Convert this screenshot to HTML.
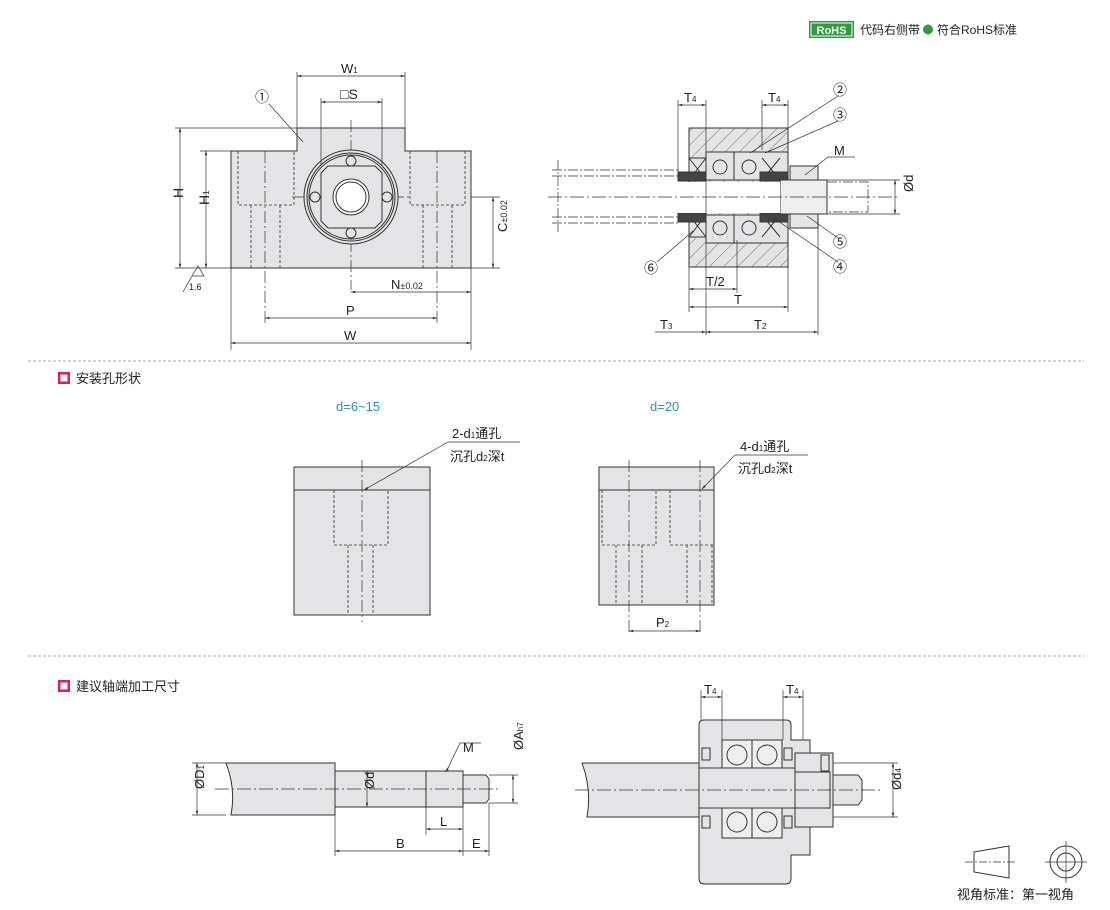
<!DOCTYPE html>
<html><head><meta charset="utf-8"><style>
html,body{margin:0;padding:0;background:#fff;}
svg{display:block;font-family:"Liberation Sans","Noto Sans CJK SC",sans-serif;}
</style></head><body>
<svg width="1110" height="910" viewBox="0 0 1110 910" xmlns="http://www.w3.org/2000/svg">
<defs>
<pattern id="h" width="10" height="10" patternUnits="userSpaceOnUse" patternTransform="rotate(45)">
<rect width="10" height="10" fill="#e4e4e6"/><line x1="0" y1="0" x2="0" y2="10" stroke="#555" stroke-width="0.8"/></pattern>
<marker id="a" viewBox="0 0 10 10" refX="10" refY="5" markerWidth="8" markerHeight="6" orient="auto-start-reverse"><path d="M0,2 L10,5 L0,8z" fill="#333"/></marker>
</defs>
<g font-size="12" fill="#222">
<!-- header -->
<rect x="809" y="21" width="45" height="17" fill="#2f9a3e"/>
<rect x="811" y="23" width="41" height="13" fill="none" stroke="#fff" stroke-width="1"/>
<text x="831.5" y="34" font-size="11" font-weight="bold" fill="#fff" text-anchor="middle">RoHS</text>
<text x="860" y="34">代码右侧带</text>
<circle cx="928" cy="29.5" r="5" fill="#2f9a3e"/>
<text x="937" y="34">符合RoHS标准</text>
</g>

<g stroke="#333" stroke-width="1" fill="none">
<!-- separators -->
<line x1="28" y1="361" x2="1084" y2="361" stroke="#aaa" stroke-dasharray="3,2"/>
<line x1="28" y1="656" x2="1084" y2="656" stroke="#aaa" stroke-dasharray="3,2"/>

<!-- TOP LEFT body -->
<path d="M231,151 H297 V128 H405 V151 H471 V268 H231Z" fill="#e4e4e6"/>
<g stroke-dasharray="3,2" stroke-width="0.8">
<path d="M238,151 V205 H294 V151"/><path d="M251,205 V268 M280,205 V268"/>
<path d="M410,151 V205 H465 V151"/><path d="M423,205 V268 M452,205 V268"/>
</g>
<g stroke-dasharray="12,3,2,3" stroke-width="0.7">
<line x1="265" y1="151" x2="265" y2="325"/><line x1="437" y1="151" x2="437" y2="325"/>
<line x1="351" y1="120" x2="351" y2="290"/><line x1="292" y1="197" x2="410" y2="197"/>
</g>
<circle cx="351" cy="197" r="47" fill="#e4e4e6"/><circle cx="351" cy="197" r="44"/><circle cx="351" cy="197" r="42"/>
<path d="M328,166 H375 L382,173 V221 L375,228 H328 L321,221 V173Z"/>
<circle cx="351" cy="197" r="18" fill="#fff"/><circle cx="351" cy="197" r="15"/>
<circle cx="351" cy="161" r="5"/><circle cx="351" cy="233" r="5"/><circle cx="315" cy="197" r="5"/><circle cx="387" cy="197" r="5"/>
<!-- dims -->
<g stroke-width="0.7">
<line x1="297" y1="72" x2="297" y2="128"/><line x1="405" y1="72" x2="405" y2="128"/>
<line x1="297" y1="76" x2="405" y2="76" marker-start="url(#a)" marker-end="url(#a)"/>
<line x1="321" y1="98" x2="321" y2="166"/><line x1="382" y1="98" x2="382" y2="166"/>
<line x1="321" y1="102" x2="382" y2="102" marker-start="url(#a)" marker-end="url(#a)"/>
<line x1="175" y1="128" x2="297" y2="128"/><line x1="175" y1="268" x2="231" y2="268"/>
<line x1="180" y1="128" x2="180" y2="268" marker-start="url(#a)" marker-end="url(#a)"/>
<line x1="200" y1="151" x2="231" y2="151"/>
<line x1="206" y1="151" x2="206" y2="268" marker-start="url(#a)" marker-end="url(#a)"/>
<line x1="471" y1="197" x2="500" y2="197"/><line x1="471" y1="268" x2="500" y2="268"/>
<line x1="493" y1="197" x2="493" y2="268" marker-start="url(#a)" marker-end="url(#a)"/>
<line x1="231" y1="268" x2="231" y2="350"/><line x1="471" y1="268" x2="471" y2="350"/>
<line x1="351" y1="292" x2="471" y2="292" marker-start="url(#a)" marker-end="url(#a)"/>
<line x1="265" y1="318" x2="437" y2="318" marker-start="url(#a)" marker-end="url(#a)"/>
<line x1="231" y1="343" x2="471" y2="343" marker-start="url(#a)" marker-end="url(#a)"/>
<line x1="269" y1="104" x2="303" y2="142"/>
<path d="M192,276 L198,266 L204,276 H192 M192,276 L183,292"/>
</g>

<!-- TOP RIGHT section -->
<rect x="689" y="128" width="99" height="139" fill="url(#h)"/>
<rect x="706" y="152" width="82" height="28" fill="#e4e4e6"/><rect x="706" y="215" width="82" height="28" fill="#e4e4e6"/>
<rect x="689" y="158" width="17" height="22" fill="#e4e4e6"/><rect x="689" y="215" width="17" height="22" fill="#e4e4e6"/>
<path d="M689,158 L706,180 M706,158 L689,180 M689,215 L706,237 M706,215 L689,237"/>
<path d="M762,158 L780,180 M780,158 L762,180 M762,215 L780,237 M780,215 L762,237"/>
<line x1="734" y1="152" x2="734" y2="180"/><line x1="734" y1="215" x2="734" y2="243"/>
<circle cx="720" cy="167" r="7"/><circle cx="749" cy="167" r="7"/><circle cx="720" cy="228" r="7"/><circle cx="749" cy="228" r="7"/>
<rect x="678" y="172" width="28" height="9" fill="#444"/><rect x="678" y="213" width="28" height="9" fill="#444"/>
<rect x="760" y="172" width="28" height="9" fill="#444"/><rect x="760" y="213" width="28" height="9" fill="#444"/>
<rect x="790" y="166" width="28" height="14" fill="#e4e4e6"/><rect x="790" y="214" width="28" height="14" fill="#e4e4e6"/>
<rect x="780" y="180" width="47" height="34" fill="#eee"/>
<rect x="678" y="182" width="102" height="31" fill="#fff" stroke="none"/>
<g stroke-dasharray="10,2,2,2" stroke-width="0.7">
<path d="M552,170 H678 M552,176 H678 M552,217 H678 M552,223 H678"/>
<path d="M827,182 H868 V212 H827"/>
</g>
<line x1="548" y1="197" x2="900" y2="197" stroke-dasharray="14,3,2,3" stroke-width="0.7"/>
<line x1="558" y1="160" x2="558" y2="232" stroke-dasharray="10,2,2,2" stroke-width="0.7"/>
<g stroke-width="0.7">
<line x1="678" y1="100" x2="678" y2="172"/><line x1="706" y1="100" x2="706" y2="335"/>
<line x1="762" y1="100" x2="762" y2="150"/><line x1="788" y1="100" x2="788" y2="128"/>
<line x1="678" y1="105" x2="706" y2="105" marker-start="url(#a)" marker-end="url(#a)"/>
<line x1="762" y1="105" x2="788" y2="105" marker-start="url(#a)" marker-end="url(#a)"/>
<line x1="827" y1="180" x2="900" y2="180"/><line x1="827" y1="214" x2="900" y2="214"/>
<line x1="895" y1="180" x2="895" y2="214" marker-start="url(#a)" marker-end="url(#a)"/>
<line x1="689" y1="267" x2="689" y2="312"/><line x1="737" y1="240" x2="737" y2="293"/>
<line x1="788" y1="267" x2="788" y2="312"/><line x1="818" y1="228" x2="818" y2="335"/>
<line x1="689" y1="289" x2="737" y2="289" marker-start="url(#a)" marker-end="url(#a)"/>
<line x1="689" y1="307" x2="788" y2="307" marker-start="url(#a)" marker-end="url(#a)"/>
<line x1="655" y1="332" x2="706" y2="332" marker-end="url(#a)"/>
<line x1="706" y1="332" x2="818" y2="332" marker-start="url(#a)" marker-end="url(#a)"/>
<line x1="838" y1="96" x2="750" y2="153"/><line x1="838" y1="121" x2="765" y2="153"/>
<path d="M855,157 H828 L805,175"/><line x1="838" y1="238" x2="807" y2="216"/>
<line x1="838" y1="262" x2="775" y2="219"/><line x1="657" y1="262" x2="693" y2="231"/>
</g>

<!-- MID -->
<rect x="294" y="467" width="136" height="148" fill="#e4e4e6"/><line x1="294" y1="490" x2="430" y2="490"/>
<g stroke-dasharray="3,2" stroke-width="0.8"><path d="M334,490 V545 H388 V490 M348,545 V615 M373,545 V615"/></g>
<line x1="362" y1="460" x2="362" y2="622" stroke-dasharray="12,3,2,3" stroke-width="0.7"/>
<rect x="599" y="467" width="115" height="138" fill="#e4e4e6"/><line x1="599" y1="490" x2="714" y2="490"/>
<g stroke-dasharray="3,2" stroke-width="0.8"><path d="M602,490 V545 H656 V490 M616,545 V605 M642,545 V605 M670,490 V545 H714 M687,545 V605 M712,545 V605"/></g>
<g stroke-dasharray="12,3,2,3" stroke-width="0.7"><line x1="629" y1="460" x2="629" y2="635"/><line x1="700" y1="460" x2="700" y2="635"/></g>
<g stroke-width="0.7">
<line x1="448" y1="442" x2="520" y2="442"/><line x1="448" y1="442" x2="364" y2="490" marker-end="url(#a)"/>
<line x1="735" y1="455" x2="808" y2="455"/><line x1="735" y1="455" x2="702" y2="489" marker-end="url(#a)"/>
<line x1="629" y1="631" x2="700" y2="631" marker-start="url(#a)" marker-end="url(#a)"/>
</g>

<!-- BOTTOM LEFT -->
<path d="M226,763 H335 V815 H231 Q236,789 226,763Z" fill="#e4e4e6"/>
<rect x="335" y="771" width="91" height="36" fill="#e4e4e6"/>
<rect x="426" y="771" width="37" height="36" fill="#e4e4e6"/>
<path d="M463,775 H486 L489,779 V799 L486,803 H463Z" fill="#e4e4e6"/>
<line x1="215" y1="789" x2="500" y2="789" stroke-dasharray="14,3,2,3" stroke-width="0.7"/>
<g stroke-width="0.7">
<line x1="192" y1="763" x2="226" y2="763"/><line x1="192" y1="815" x2="226" y2="815"/>
<line x1="197" y1="763" x2="197" y2="815" marker-start="url(#a)" marker-end="url(#a)"/>
<line x1="367" y1="771" x2="367" y2="807" marker-start="url(#a)" marker-end="url(#a)"/>
<line x1="489" y1="775" x2="518" y2="775"/><line x1="489" y1="803" x2="518" y2="803"/>
<line x1="513" y1="775" x2="513" y2="803" marker-start="url(#a)" marker-end="url(#a)"/>
<path d="M481,743 H460 L447,770" /><line x1="447" y1="770" x2="445" y2="772" marker-end="url(#a)"/>
<line x1="426" y1="807" x2="426" y2="835"/><line x1="335" y1="815" x2="335" y2="856"/>
<line x1="463" y1="807" x2="463" y2="856"/><line x1="489" y1="803" x2="489" y2="856"/>
<line x1="426" y1="829" x2="463" y2="829" marker-start="url(#a)" marker-end="url(#a)"/>
<line x1="335" y1="851" x2="463" y2="851" marker-start="url(#a)" marker-end="url(#a)"/>
<line x1="463" y1="851" x2="489" y2="851" marker-end="url(#a)"/>
</g>

<!-- BOTTOM RIGHT -->
<path d="M582,763 H700 V817 H587 Q592,790 582,763Z" fill="#e4e4e6"/>
<path d="M704,720 H786 L791,725 V740 H702 Z" fill="#e4e4e6"/>
<path d="M699,725 Q699,720 704,720 H786 Q791,720 791,725 V740 H810 V855 H791 V878 Q791,884 786,884 H704 Q699,884 699,878Z" fill="#e4e4e6"/>
<rect x="722" y="740" width="60" height="30" fill="#eee"/><rect x="722" y="806" width="60" height="32" fill="#eee"/>
<line x1="752" y1="740" x2="752" y2="770"/><line x1="752" y1="806" x2="752" y2="838"/>
<circle cx="737" cy="755" r="10"/><circle cx="767" cy="755" r="10"/><circle cx="737" cy="822" r="10"/><circle cx="767" cy="822" r="10"/>
<rect x="702" y="748" width="8" height="12"/><rect x="784" y="748" width="8" height="12"/>
<rect x="702" y="816" width="8" height="12"/><rect x="784" y="816" width="8" height="12"/>
<rect x="699" y="768" width="96" height="40" fill="#e4e4e6"/>
<rect x="795" y="753" width="38" height="74" fill="#e4e4e6"/>
<rect x="795" y="772" width="35" height="36" fill="#e4e4e6"/>
<rect x="821" y="755" width="8" height="16"/>
<path d="M833,775 H858 L862,780 V800 L858,805 H833Z" fill="#e4e4e6"/>
<line x1="575" y1="790" x2="880" y2="790" stroke-dasharray="14,3,2,3" stroke-width="0.7"/>
<g stroke-width="0.7">
<line x1="701" y1="690" x2="701" y2="720"/><line x1="722" y1="690" x2="722" y2="740"/>
<line x1="783" y1="690" x2="783" y2="740"/><line x1="803" y1="690" x2="803" y2="740"/>
<line x1="701" y1="697" x2="722" y2="697" marker-start="url(#a)" marker-end="url(#a)"/>
<line x1="783" y1="697" x2="803" y2="697" marker-start="url(#a)" marker-end="url(#a)"/>
<line x1="833" y1="763" x2="898" y2="763"/><line x1="833" y1="817" x2="898" y2="817"/>
<line x1="893" y1="763" x2="893" y2="817" marker-start="url(#a)" marker-end="url(#a)"/>
</g>
<!-- projection symbol -->
<path d="M974,852 L1009,846 V878 L974,872Z"/>
<line x1="965" y1="862" x2="1015" y2="862" stroke-dasharray="8,2,2,2" stroke-width="0.7"/>
<circle cx="1066" cy="862" r="16"/><circle cx="1066" cy="862" r="9"/>
<line x1="1045" y1="862" x2="1087" y2="862" stroke-width="0.7"/><line x1="1066" y1="841" x2="1066" y2="883" stroke-width="0.7"/>
</g>

<!-- texts -->
<g font-size="13" fill="#222">
<text x="341" y="73">W<tspan font-size="8">1</tspan></text>
<text x="340" y="99" font-size="14">□S</text>
<text x="255" y="102" font-size="14">①</text>
<text x="176" y="205" transform="rotate(-90 176 198)" font-size="14">H</text>
<text x="202" y="212" transform="rotate(-90 202 205)" font-size="14">H<tspan font-size="8">1</tspan></text>
<text x="489" y="250" transform="rotate(-90 489 232)">C<tspan font-size="9">±0.02</tspan></text>
<text x="189" y="290" font-size="9">1.6</text>
<text x="391" y="289">N<tspan font-size="9">±0.02</tspan></text>
<text x="346" y="315">P</text>
<text x="344" y="340">W</text>
<text x="684" y="102">T<tspan font-size="8">4</tspan></text>
<text x="768" y="102">T<tspan font-size="8">4</tspan></text>
<text x="833" y="95" font-size="14">②</text>
<text x="833" y="120" font-size="14">③</text>
<text x="834" y="155">M</text>
<text x="910" y="205" transform="rotate(-90 905 197)">Ød</text>
<text x="833" y="247" font-size="14">⑤</text>
<text x="833" y="272" font-size="14">④</text>
<text x="644" y="273" font-size="14">⑥</text>
<text x="706" y="286">T/2</text>
<text x="734" y="304">T</text>
<text x="660" y="329">T<tspan font-size="8">3</tspan></text>
<text x="754" y="329">T<tspan font-size="8">2</tspan></text>
<rect x="58" y="372" width="12" height="12" fill="#e4195f"/><rect x="60.5" y="374.5" width="7" height="7" fill="#fff"/>
<text x="76" y="383">安装孔形状</text>
<text x="336" y="411" fill="#2a8ccc">d=6~15</text>
<text x="650" y="411" fill="#2a8ccc">d=20</text>
<text x="452" y="438">2-d<tspan font-size="8">1</tspan>通孔</text>
<text x="450" y="461">沉孔d<tspan font-size="8">2</tspan>深t</text>
<text x="740" y="451">4-d<tspan font-size="8">1</tspan>通孔</text>
<text x="738" y="473">沉孔d<tspan font-size="8">2</tspan>深t</text>
<text x="656" y="627">P<tspan font-size="8">2</tspan></text>
<rect x="58" y="680" width="12" height="12" fill="#e4195f"/><rect x="60.5" y="682.5" width="7" height="7" fill="#fff"/>
<text x="76" y="691">建议轴端加工尺寸</text>
<text x="193" y="800" transform="rotate(-90 193 789)">ØD<tspan font-size="8">1</tspan></text>
<text x="363" y="800" transform="rotate(-90 363 789)">Ød</text>
<text x="509" y="764" transform="rotate(-90 509 750)">ØA<tspan font-size="8">h7</tspan></text>
<text x="463" y="752">M</text>
<text x="440" y="826">L</text>
<text x="396" y="848">B</text>
<text x="472" y="848">E</text>
<text x="704" y="694">T<tspan font-size="8">4</tspan></text>
<text x="786" y="694">T<tspan font-size="8">4</tspan></text>
<text x="889" y="802" transform="rotate(-90 889 790)">Ød<tspan font-size="8">4</tspan></text>
<text x="957" y="899">视角标准：第一视角</text>
</g>
</svg>
</body></html>
